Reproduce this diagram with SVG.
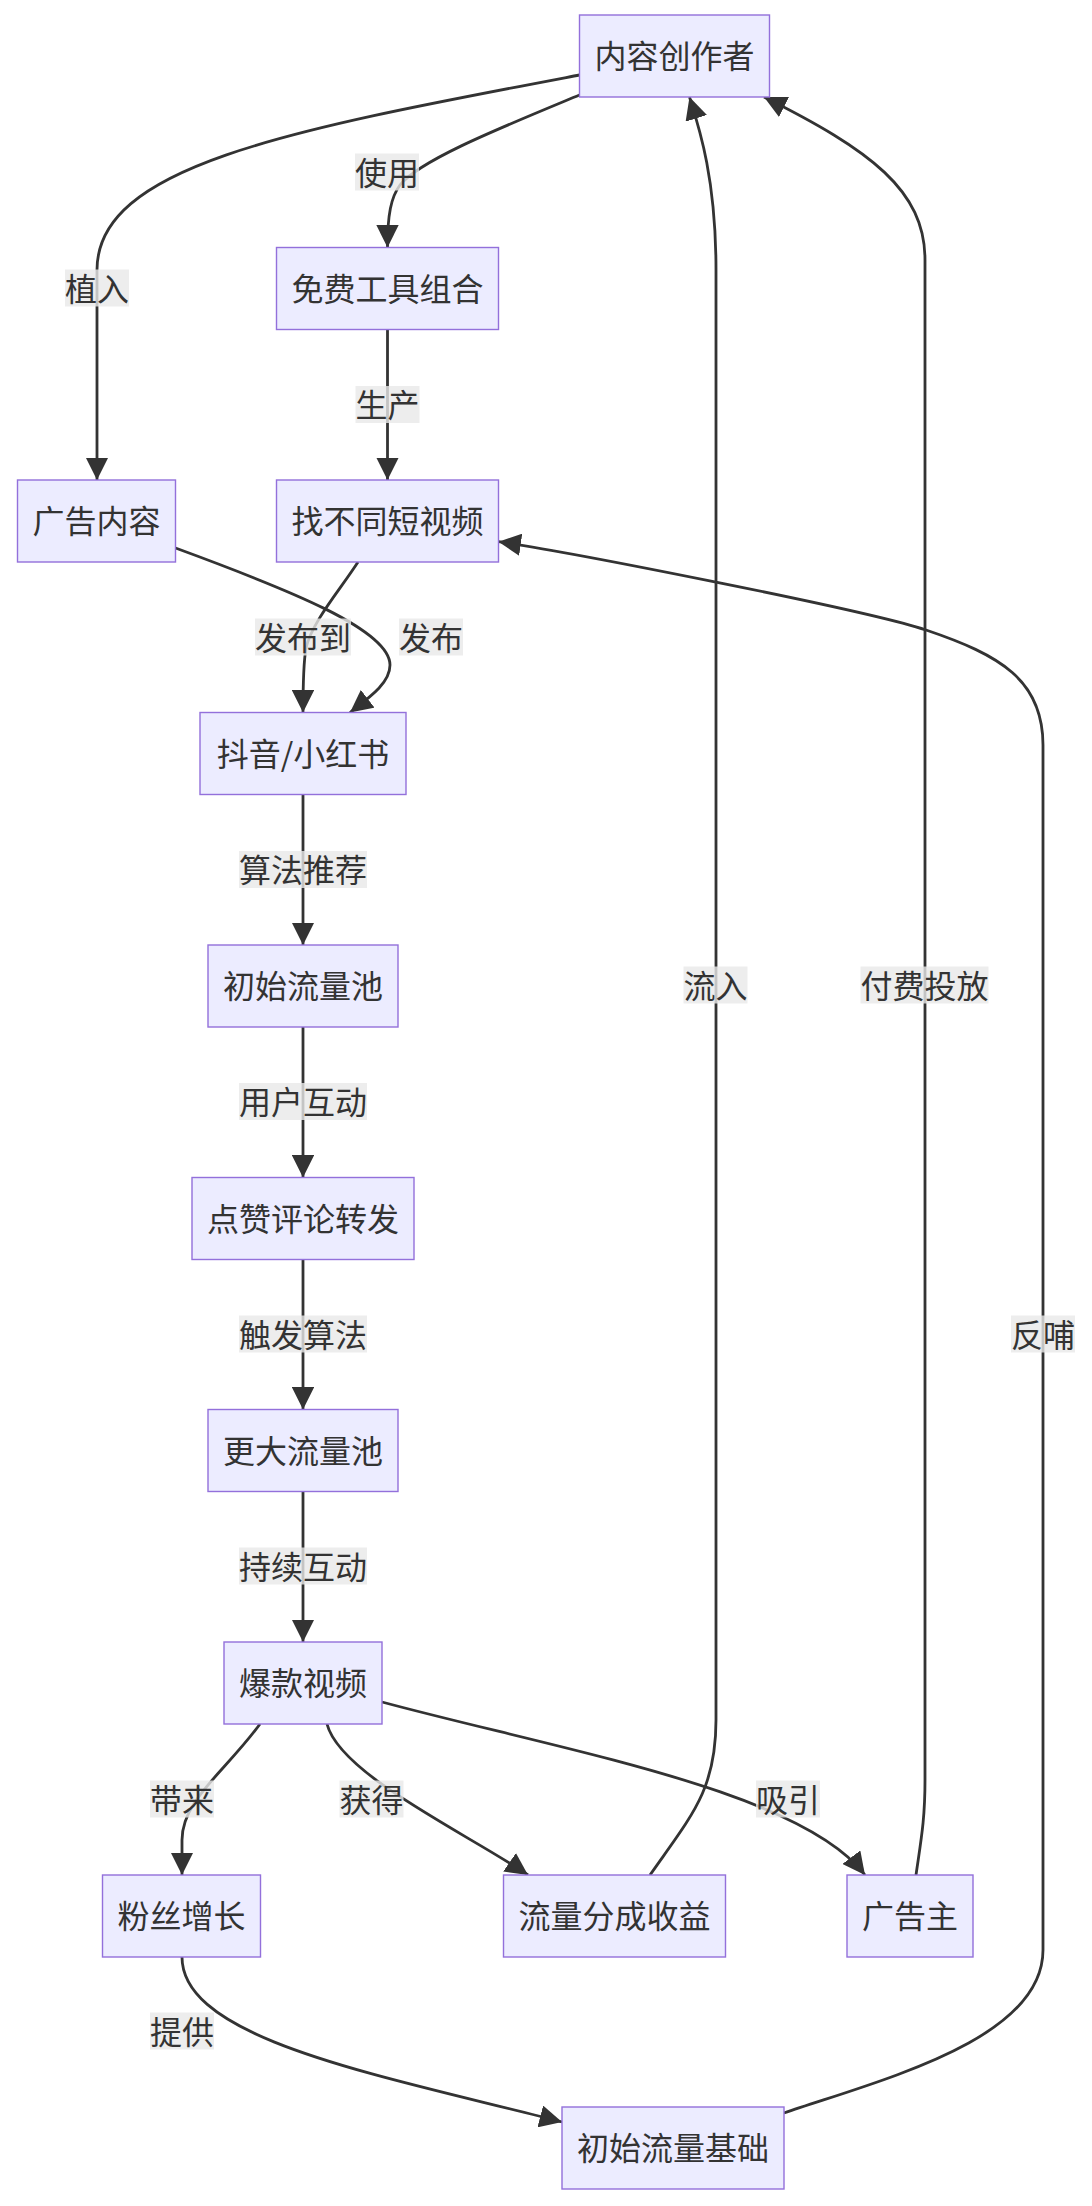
<svg xmlns="http://www.w3.org/2000/svg" width="1092" height="2206" viewBox="0 0 1092 2206">
<style>
.node rect{fill:#ECECFF;stroke:#9370DB;stroke-width:1.4}
.node text,.lbl text{font-family:"Noto Sans CJK SC","Noto Sans",sans-serif;font-size:32px;fill:#333;text-anchor:middle}
.edge{fill:none;stroke:#333;stroke-width:2.8;marker-end:url(#arr)}
.lbl rect{fill:#e8e8e8;fill-opacity:0.8}
</style>
<defs>
<marker id="arr" viewBox="0 0 10 10" refX="10" refY="5" markerWidth="8" markerHeight="8" markerUnits="strokeWidth" orient="auto">
<path d="M0,0 L10,5 L0,10 z" fill="#333"/>
</marker>
</defs>
<rect width="1092" height="2206" fill="#fff"/>
<g id="connectors">
<path class="edge" d="M579.5,95 C500,128 420,160 400,185 C391,197 387.5,215 387.5,247.5"/>
<path class="edge" d="M579.5,75 C290,130 97,165 97,270 L97,480"/>
<path class="edge" d="M387.5,329.5 L387.5,480"/>
<path class="edge" d="M175.5,548 C290,590 390,630 390,665 C390,683 370,697 350,712.5"/>
<path class="edge" d="M358,562 C340,590 312,622 306,648 C303,665 303,690 303,712.5"/>
<path class="edge" d="M303,794.5 L303,945"/>
<path class="edge" d="M303,1027 L303,1177.5"/>
<path class="edge" d="M303,1259.5 L303,1409.5"/>
<path class="edge" d="M303,1491.5 L303,1642"/>
<path class="edge" d="M260,1724 C225,1772 182,1800 182,1840 L182,1875"/>
<path class="edge" d="M327,1724 C340,1775 470,1835 528,1875"/>
<path class="edge" d="M382,1702 C560,1750 800,1790 865,1875"/>
<path class="edge" d="M182,1957 C182,2040 380,2075 562,2122"/>
<path class="edge" d="M650,1875 C692,1815 716,1790 716,1720 L716,270 C716,180 700,130 689.5,97"/>
<path class="edge" d="M916,1875 C921,1840 925,1820 925,1780 L925,260 C925,190 870,150 764,97"/>
<path class="edge" d="M784,2113 C880,2080 1043,2040 1043,1950 L1043,745 C1043,680 1000,655 926,630 C866,609.7 558.5,550 498.5,541.7"/>
</g>
<g id="edge-labels">
<g class="lbl"><rect x="355" y="153.5" width="64" height="37"/><text x="387" y="184.5">使用</text></g>
<g class="lbl"><rect x="65" y="269.5" width="64" height="37"/><text x="97" y="300.5">植入</text></g>
<g class="lbl"><rect x="355.5" y="386" width="64" height="37"/><text x="387.5" y="417">生产</text></g>
<g class="lbl"><rect x="255" y="618.5" width="96" height="37"/><text x="303" y="649.5">发布到</text></g>
<g class="lbl"><rect x="399" y="618.5" width="64" height="37"/><text x="431" y="649.5">发布</text></g>
<g class="lbl"><rect x="239" y="851" width="128" height="37"/><text x="303" y="882">算法推荐</text></g>
<g class="lbl"><rect x="239" y="1083" width="128" height="37"/><text x="303" y="1114">用户互动</text></g>
<g class="lbl"><rect x="239" y="1315.5" width="128" height="37"/><text x="303" y="1346.5">触发算法</text></g>
<g class="lbl"><rect x="239" y="1547.5" width="128" height="37"/><text x="303" y="1578.5">持续互动</text></g>
<g class="lbl"><rect x="150" y="1780.5" width="64" height="37"/><text x="182" y="1811.5">带来</text></g>
<g class="lbl"><rect x="339.5" y="1780.5" width="64" height="37"/><text x="371.5" y="1811.5">获得</text></g>
<g class="lbl"><rect x="756" y="1780.5" width="64" height="37"/><text x="788" y="1811.5">吸引</text></g>
<g class="lbl"><rect x="150" y="2012.5" width="64" height="37"/><text x="182" y="2043.5">提供</text></g>
<g class="lbl"><rect x="683.5" y="966.5" width="64" height="37"/><text x="715.5" y="997.5">流入</text></g>
<g class="lbl"><rect x="860.5" y="966.5" width="128" height="37"/><text x="924.5" y="997.5">付费投放</text></g>
<g class="lbl"><rect x="1011" y="1315.5" width="64" height="37"/><text x="1043" y="1346.5">反哺</text></g>
</g>
<g id="A" class="node"><rect x="579.5" y="15" width="190" height="82"/><text x="674.5" y="68">内容创作者</text></g>
<g id="B" class="node"><rect x="276.5" y="247.5" width="222" height="82"/><text x="387.5" y="300.5">免费工具组合</text></g>
<g id="C" class="node"><rect x="17.5" y="480" width="158" height="82"/><text x="96.5" y="533">广告内容</text></g>
<g id="D" class="node"><rect x="276.5" y="480" width="222" height="82"/><text x="387.5" y="533">找不同短视频</text></g>
<g id="E" class="node"><rect x="200" y="712.5" width="206" height="82"/><text x="303" y="765.5">抖音/小红书</text></g>
<g id="F" class="node"><rect x="208" y="945" width="190" height="82"/><text x="303" y="998">初始流量池</text></g>
<g id="G" class="node"><rect x="192" y="1177.5" width="222" height="82"/><text x="303" y="1230.5">点赞评论转发</text></g>
<g id="H" class="node"><rect x="208" y="1409.5" width="190" height="82"/><text x="303" y="1462.5">更大流量池</text></g>
<g id="I" class="node"><rect x="224" y="1642" width="158" height="82"/><text x="303" y="1695">爆款视频</text></g>
<g id="J" class="node"><rect x="102.5" y="1875" width="158" height="82"/><text x="181.5" y="1928">粉丝增长</text></g>
<g id="K" class="node"><rect x="503.5" y="1875" width="222" height="82"/><text x="614.5" y="1928">流量分成收益</text></g>
<g id="L" class="node"><rect x="847" y="1875" width="126" height="82"/><text x="910" y="1928">广告主</text></g>
<g id="M" class="node"><rect x="562" y="2107" width="222" height="82"/><text x="673" y="2160">初始流量基础</text></g>
</svg>
